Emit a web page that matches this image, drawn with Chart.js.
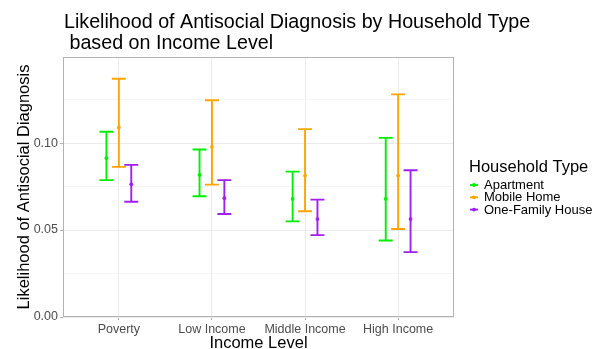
<!DOCTYPE html>
<html>
<head>
<meta charset="utf-8">
<script src="https://cdn.jsdelivr.net/npm/chart.js@4"></script>
<style>
  html, body { margin: 0; padding: 0; background: #ffffff; }
  #wrap { width: 592px; height: 349px; }
</style>
</head>
<body>
<div id="wrap"><canvas id="chart" width="592" height="349"></canvas></div>
<script>
// Income levels on the x axis and the household types (one series each)
const incomeLevels = ['Poverty', 'Low Income', 'Middle Income', 'High Income'];
const householdTypes = ['Apartment', 'Mobile Home', 'One-Family House'];
const seriesColors = ['#00ee00', '#ffa500', '#a020f0'];

// Estimated likelihood with lower / upper interval bounds, per income level
const apartmentMid  = [0.0913, 0.0817, 0.0679, 0.0679];
const apartmentLow  = [0.0787, 0.0694, 0.0550, 0.0440];
const apartmentHigh = [0.1065, 0.0963, 0.0836, 0.1030];

const mobileMid  = [0.1090, 0.0977, 0.0813, 0.0813];
const mobileLow  = [0.0863, 0.0761, 0.0608, 0.0506];
const mobileHigh = [0.1370, 0.1246, 0.1080, 0.1280];

const houseMid  = [0.0763, 0.0683, 0.0563, 0.0563];
const houseLow  = [0.0663, 0.0592, 0.0471, 0.0373];
const houseHigh = [0.0875, 0.0787, 0.0675, 0.0844];

// Labelled y ticks; minor grid lines fall halfway between them
const yTicks = [0, 0.05, 0.10];
const yMinorTicks = [0.025, 0.075, 0.125];

const seriesMid  = [apartmentMid, mobileMid, houseMid];
const seriesLow  = [apartmentLow, mobileLow, houseLow];
const seriesHigh = [apartmentHigh, mobileHigh, houseHigh];

// Dodge the three series side by side inside each category slot
const DODGE = 0.4;
const CAP_WIDTH = 0.15;
function dodgeOffset(j) { return (j - (householdTypes.length - 1) / 2) * DODGE / householdTypes.length; }

const datasets = householdTypes.map((name, j) => ({
  label: name,
  data: incomeLevels.map((_, i) => ({
    x: i + 1 + dodgeOffset(j),
    y: seriesMid[j][i],
    yLow: seriesLow[j][i],
    yHigh: seriesHigh[j][i]
  })),
  showLine: false,
  pointRadius: 1.9,
  pointBackgroundColor: seriesColors[j],
  pointBorderColor: seriesColors[j],
  pointBorderWidth: 0,
  errColor: seriesColors[j]
}));

const FONT = '"Liberation Sans", Arial, Helvetica, sans-serif';

// Draws interval bars with caps behind the point estimates
const errorBars = {
  id: 'errorBars',
  beforeDatasetsDraw(chart) {
    const ctx = chart.ctx;
    const xs = chart.scales.x, ys = chart.scales.y;
    const halfCap = (xs.getPixelForValue(1 + CAP_WIDTH / 2) - xs.getPixelForValue(1));
    chart.data.datasets.forEach((ds) => {
      ctx.save();
      ctx.strokeStyle = ds.errColor;
      ctx.lineWidth = 1.9;
      ctx.lineCap = 'butt';
      ds.data.forEach((d) => {
        const px = xs.getPixelForValue(d.x);
        const yl = ys.getPixelForValue(d.yLow);
        const yh = ys.getPixelForValue(d.yHigh);
        ctx.beginPath();
        ctx.moveTo(px, yl); ctx.lineTo(px, yh);
        ctx.moveTo(px - halfCap, yh); ctx.lineTo(px + halfCap, yh);
        ctx.moveTo(px - halfCap, yl); ctx.lineTo(px + halfCap, yl);
        ctx.stroke();
      });
      ctx.restore();
    });
  }
};

// Panel border, titles and legend
const decorations = {
  id: 'decorations',
  afterDraw(chart) {
    const ctx = chart.ctx;
    const a = chart.chartArea;
    ctx.save();
    ctx.strokeStyle = '#b3b3b3';
    ctx.lineWidth = 1;
    ctx.strokeRect(Math.round(a.left) + 0.5, Math.round(a.top) + 0.5,
                   Math.round(a.right - a.left) - 1, Math.round(a.bottom - a.top) - 1);

    ctx.fillStyle = '#000000';
    ctx.textAlign = 'left';
    ctx.textBaseline = 'alphabetic';
    ctx.font = '19.7px ' + FONT;
    ctx.fillText('Likelihood of Antisocial Diagnosis by Household Type', 64, 28);
    ctx.fillText(' based on Income Level', 64, 49);

    ctx.font = '16.5px ' + FONT;
    ctx.textAlign = 'center';
    ctx.fillText('Income Level', (a.left + a.right) / 2, 348);

    ctx.save();
    ctx.translate(29, (a.top + a.bottom) / 2);
    ctx.rotate(-Math.PI / 2);
    ctx.fillText('Likelihood of Antisocial Diagnosis', 0, 0);
    ctx.restore();

    // legend
    ctx.textAlign = 'left';
    ctx.font = '16.5px ' + FONT;
    ctx.fillText('Household Type', 469, 171.5);
    ctx.font = '13px ' + FONT;
    ctx.textBaseline = 'middle';
    householdTypes.forEach((name, j) => {
      const cy = 185 + j * 12.3;
      ctx.strokeStyle = seriesColors[j];
      ctx.lineWidth = 1.9;
      ctx.beginPath();
      ctx.moveTo(470, cy); ctx.lineTo(478, cy);
      ctx.stroke();
      ctx.fillStyle = seriesColors[j];
      ctx.beginPath();
      ctx.arc(474, cy, 1.9, 0, Math.PI * 2);
      ctx.fill();
      ctx.fillStyle = '#000000';
      ctx.fillText(name, 484, cy + 0.5);
    });
    ctx.restore();
  }
};

new Chart(document.getElementById('chart'), {
  type: 'scatter',
  data: { datasets },
  options: {
    responsive: false,
    animation: false,
    devicePixelRatio: 1,
    layout: { padding: { left: 0, top: 57, right: 138, bottom: 0 } },
    plugins: { legend: { display: false }, tooltip: { enabled: false }, title: { display: false } },
    scales: {
      x: {
        type: 'linear',
        min: 0.4,
        max: 4.6,
        afterBuildTicks: (s) => { s.ticks = incomeLevels.map((_, i) => ({ value: i + 1 })); },
        afterFit: (s) => { s.height = 32; },
        ticks: {
          autoSkip: false,
          maxRotation: 0,
          padding: 2,
          color: '#4d4d4d',
          font: { family: FONT, size: 12.5 },
          callback: (v) => incomeLevels[Math.round(v) - 1]
        },
        grid: { color: '#ebebeb', lineWidth: 1, tickLength: 3, tickColor: '#b3b3b3' },
        border: { display: false }
      },
      y: {
        min: 0,
        max: 0.1495,
        afterBuildTicks: (s) => {
          s.ticks = yTicks.concat(yMinorTicks).sort((p, q) => p - q).map(v => ({ value: v }));
        },
        afterFit: (s) => { s.width = 63; },
        ticks: {
          padding: 2,
          color: '#4d4d4d',
          font: { family: FONT, size: 12.5 },
          callback: (v) => yTicks.some(t => Math.abs(t - v) < 1e-9) ? v.toFixed(2) : ''
        },
        grid: {
          lineWidth: 1,
          tickLength: 3,
          color: (c) => yTicks.some(t => Math.abs(t - c.tick.value) < 1e-9) ? '#ebebeb' : '#f5f5f5',
          tickColor: (c) => yTicks.some(t => Math.abs(t - c.tick.value) < 1e-9) ? '#b3b3b3' : 'rgba(0,0,0,0)'
        },
        border: { display: false }
      }
    }
  },
  plugins: [errorBars, decorations]
});
</script>
</body>
</html>
